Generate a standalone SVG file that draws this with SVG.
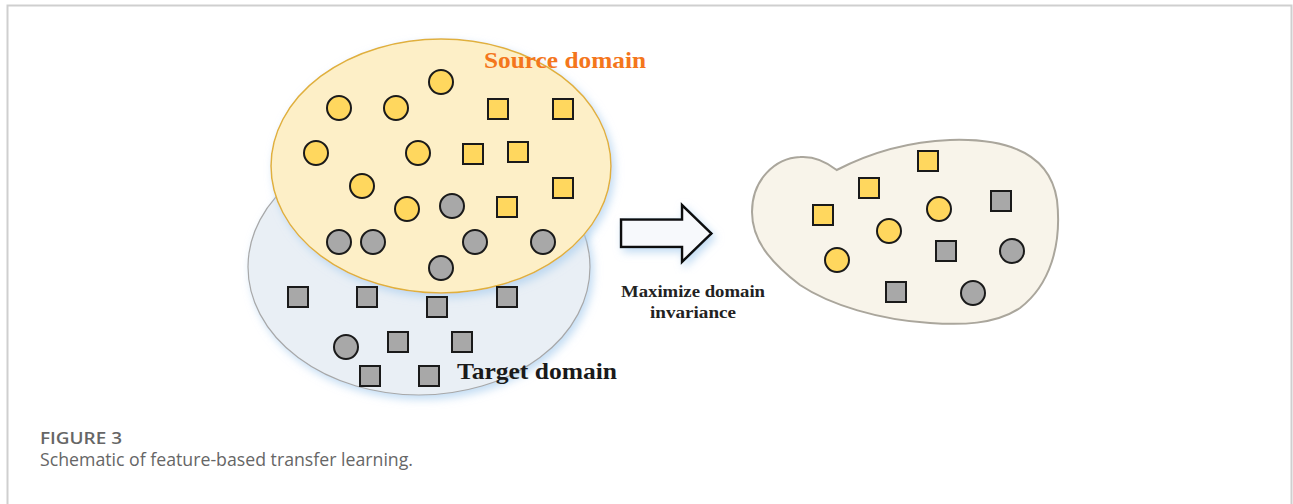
<svg xmlns="http://www.w3.org/2000/svg" width="1293" height="504" viewBox="0 0 1293 504">
<style>
.yc{fill:#ffd75e;stroke:#1a1a1a;stroke-width:2}
.gc{fill:#a8a8a8;stroke:#1a1a1a;stroke-width:2}
.lbl{font-family:"Liberation Serif","Times New Roman",serif;font-weight:bold}
.cap{font-family:"Open Sans","Lato",sans-serif;fill:#666}
</style>
<defs>
<filter id="glow" x="-20%" y="-20%" width="140%" height="140%">
<feDropShadow dx="3" dy="4" stdDeviation="4" flood-color="#a9cdee" flood-opacity="0.7"/>
</filter>
<circle id="c" r="12"/>
<rect id="s" x="-10" y="-10" width="20" height="20"/>
</defs>
<rect width="1293" height="504" fill="#fff"/>
<path d="M7.5,504 V5.5 H1291.5 V504" fill="none" stroke="#cfcfcf" stroke-width="2"/>

<g id="target-domain">
<ellipse cx="419" cy="267" rx="171" ry="128" fill="#e9eff5" stroke="#a8a8a8" stroke-width="1.2" filter="url(#glow)"/>
</g>
<g id="source-domain">
<ellipse cx="441" cy="166" rx="170" ry="127" fill="#fdefc7" stroke="#e0b03c" stroke-width="1.5" filter="url(#glow)"/>
</g>

<g id="source-items">
<use href="#c" class="yc" x="441" y="82"/>
<use href="#c" class="yc" x="339" y="108"/>
<use href="#c" class="yc" x="396" y="108"/>
<use href="#c" class="yc" x="316" y="153"/>
<use href="#c" class="yc" x="418" y="153"/>
<use href="#c" class="yc" x="362" y="186"/>
<use href="#c" class="yc" x="407" y="209"/>
<use href="#c" class="gc" x="452" y="206"/>
<use href="#c" class="gc" x="339" y="242"/>
<use href="#c" class="gc" x="373" y="242"/>
<use href="#c" class="gc" x="475" y="242"/>
<use href="#c" class="gc" x="543" y="242"/>
<use href="#c" class="gc" x="441" y="268"/>
<use href="#s" class="yc" x="498" y="109"/>
<use href="#s" class="yc" x="563" y="109"/>
<use href="#s" class="yc" x="473" y="154"/>
<use href="#s" class="yc" x="518" y="152"/>
<use href="#s" class="yc" x="563" y="188"/>
<use href="#s" class="yc" x="507" y="207"/>
</g>
<g id="target-items">
<use href="#s" class="gc" x="298" y="297"/>
<use href="#s" class="gc" x="367" y="297"/>
<use href="#s" class="gc" x="437" y="307"/>
<use href="#s" class="gc" x="507" y="297"/>
<use href="#s" class="gc" x="398" y="342"/>
<use href="#s" class="gc" x="462" y="342"/>
<use href="#s" class="gc" x="370" y="376"/>
<use href="#s" class="gc" x="429" y="376"/>
<use href="#c" class="gc" x="346" y="347"/>
</g>

<text class="lbl" x="484" y="68" font-size="24" fill="#f4761c" textLength="162" lengthAdjust="spacingAndGlyphs">Source domain</text>
<text class="lbl" x="457" y="379" font-size="24" fill="#1a1a1a" textLength="160" lengthAdjust="spacingAndGlyphs">Target domain</text>

<g id="connectors">
<path d="M621,219.5 H682 V205 L711.5,233.5 L682,262 V247 H621 Z" fill="#f7f9fc" stroke="#111" stroke-width="2.5" stroke-linejoin="miter" filter="url(#glow)"/>
</g>
<text class="lbl" x="621" y="297" font-size="17.5" fill="#222" textLength="144" lengthAdjust="spacingAndGlyphs">Maximize domain</text>
<text class="lbl" x="650" y="318" font-size="17.5" fill="#222" textLength="86" lengthAdjust="spacingAndGlyphs">invariance</text>

<g id="shared-domain">
<path d="M836.7,170 C860,158 900,142 950,140 C1010,138 1050,155 1057,200 C1062,245 1050,285 1020,308 C995,325 960,325 930,323 C880,320 830,305 800,285 C770,262 752,240 752,212 C752,180 775,158 800,157 C815,156 828,163 836.7,170 Z" fill="#f8f4ea" stroke="#aaa69c" stroke-width="2"/>
<use href="#s" class="yc" x="928" y="161"/>
<use href="#s" class="yc" x="869" y="188"/>
<use href="#s" class="yc" x="823" y="215"/>
<use href="#s" class="gc" x="1001" y="201"/>
<use href="#s" class="gc" x="946" y="251"/>
<use href="#s" class="gc" x="896" y="292"/>
<use href="#c" class="yc" x="939" y="209"/>
<use href="#c" class="yc" x="889" y="231"/>
<use href="#c" class="yc" x="837" y="260"/>
<use href="#c" class="gc" x="1012" y="251"/>
<use href="#c" class="gc" x="973" y="293"/>
</g>

<text class="cap" x="40" y="444" font-size="16" font-weight="600" textLength="82" lengthAdjust="spacingAndGlyphs">FIGURE 3</text>
<text class="cap" x="40" y="466" font-size="17.5" textLength="373" lengthAdjust="spacingAndGlyphs">Schematic of feature-based transfer learning.</text>
</svg>
